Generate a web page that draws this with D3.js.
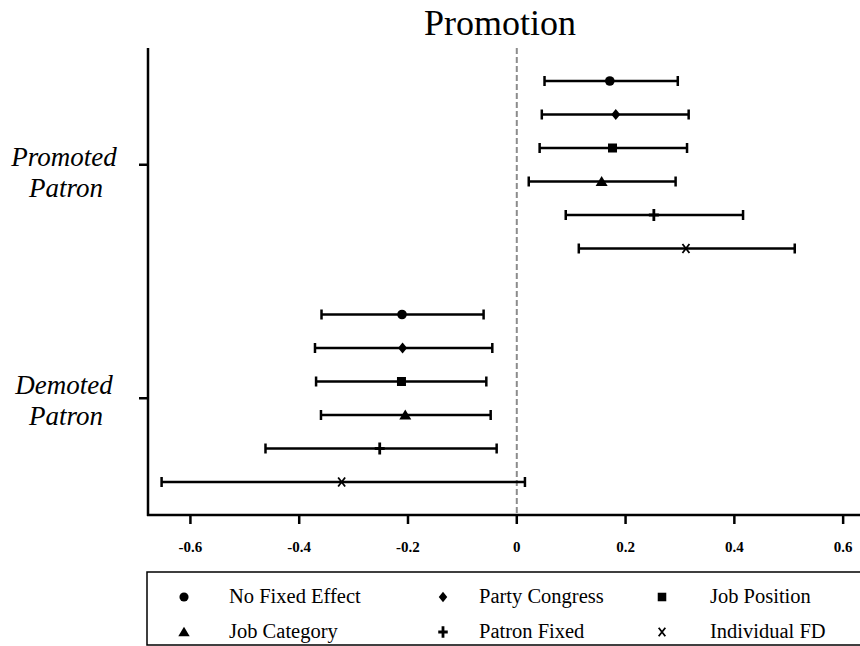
<!DOCTYPE html>
<html lang="en">
<head>
  <meta charset="UTF-8">
  <title>Promotion</title>
  <script src="https://d3js.org/d3.v7.min.js"></script>
  <style>
    body {
      margin: 0;
      background: white;
    }
    svg { display: block; }
  </style>
</head>
<body>

<svg width="860" height="646"></svg>

<script>
// categories (top to bottom) and model specifications
const categories = ["Promoted Patron", "Demoted Patron"];
const models = ["No Fixed Effect", "Party Congress", "Job Position", "Job Category", "Patron Fixed", "Individual FD"];
const shapes = ["circle", "diamond", "square", "triangle", "plus", "x"];

// point estimates and confidence bounds, one array per category (order = models)
const promotedEst = [0.171, 0.182, 0.176, 0.156, 0.252, 0.311];
const promotedLow = [0.051, 0.046, 0.042, 0.022, 0.090, 0.114];
const promotedHigh = [0.296, 0.316, 0.313, 0.292, 0.416, 0.511];

const demotedEst = [-0.211, -0.210, -0.212, -0.205, -0.252, -0.322];
const demotedLow = [-0.359, -0.371, -0.369, -0.360, -0.462, -0.653];
const demotedHigh = [-0.061, -0.045, -0.056, -0.048, -0.037, 0.015];

const xTicks = [-0.6, -0.4, -0.2, 0, 0.2, 0.4, 0.6];

const serif = "'Liberation Serif', 'Times New Roman', Times, serif";

const rows = [];
[[promotedEst, promotedLow, promotedHigh], [demotedEst, demotedLow, demotedHigh]].forEach((s, ci) => {
  models.forEach((m, i) => {
    rows.push({ cat: categories[ci], idx: i, shape: shapes[i], est: s[0][i], lo: s[1][i], hi: s[2][i] });
  });
});

const svg = d3.select("svg").attr("font-family", serif);
const plot = { left: 148, right: 860, top: 48, bottom: 515 };

const x = d3.scaleLinear().domain([-0.678, 0.631]).range([plot.left, plot.right]);
const y = d3.scalePoint().domain(categories).range([plot.top, plot.bottom]).padding(0.5);
const rowGap = 33.5;
const rowY = d => y(d.cat) + (d.idx - 2.5) * rowGap;

// title
svg.append("text")
  .attr("x", 500).attr("y", 35)
  .attr("text-anchor", "middle")
  .attr("font-size", 36)
  .text("Promotion");

// zero reference line
svg.append("line")
  .attr("x1", x(0)).attr("x2", x(0))
  .attr("y1", plot.top).attr("y2", plot.bottom)
  .attr("stroke", "#8c8c8c").attr("stroke-width", 2)
  .attr("stroke-dasharray", "6,3");

// axes
const axisG = svg.append("g").attr("stroke", "#000").attr("stroke-width", 2.5);
axisG.append("line").attr("x1", plot.left).attr("x2", plot.left)
  .attr("y1", plot.top).attr("y2", plot.bottom + 1);
axisG.append("line").attr("x1", plot.left - 1).attr("x2", plot.right)
  .attr("y1", plot.bottom).attr("y2", plot.bottom);

// x ticks
svg.append("g").selectAll("line").data(xTicks).join("line")
  .attr("x1", d => x(d)).attr("x2", d => x(d))
  .attr("y1", plot.bottom).attr("y2", plot.bottom + 9)
  .attr("stroke", "#000").attr("stroke-width", 2.5);
svg.append("g").selectAll("text").data(xTicks).join("text")
  .attr("x", d => x(d)).attr("y", plot.bottom + 37)
  .attr("text-anchor", "middle")
  .attr("font-size", 15).attr("font-weight", "bold")
  .text(d => d === 0 ? "0" : d3.format(".1f")(d).replace("\u2212", "-"));

// y ticks and category labels
const labelShift = [1, -4];
svg.append("g").selectAll("line").data(categories).join("line")
  .attr("x1", plot.left - 9).attr("x2", plot.left)
  .attr("y1", d => y(d)).attr("y2", d => y(d))
  .attr("stroke", "#000").attr("stroke-width", 2.5);
const catText = svg.append("g").selectAll("text").data(categories).join("text")
  .attr("font-size", 27).attr("font-style", "italic")
  .attr("text-anchor", "middle")
  .attr("y", (d, i) => y(d) + labelShift[i]);
catText.append("tspan").attr("x", 64).text(d => d.split(" ")[0]);
catText.append("tspan").attr("x", 66).attr("dy", 31).text(d => d.split(" ")[1]);

// error bars
const bars = svg.append("g").attr("stroke", "#000").attr("stroke-width", 2.5);
bars.selectAll("line.ci").data(rows).join("line").attr("class", "ci")
  .attr("x1", d => x(d.lo)).attr("x2", d => x(d.hi))
  .attr("y1", rowY).attr("y2", rowY);
bars.selectAll("line.cap-lo").data(rows).join("line").attr("class", "cap-lo")
  .attr("x1", d => x(d.lo)).attr("x2", d => x(d.lo))
  .attr("y1", d => rowY(d) - 5).attr("y2", d => rowY(d) + 5);
bars.selectAll("line.cap-hi").data(rows).join("line").attr("class", "cap-hi")
  .attr("x1", d => x(d.hi)).attr("x2", d => x(d.hi))
  .attr("y1", d => rowY(d) - 5).attr("y2", d => rowY(d) + 5);

// marker drawing
function drawMarker(g, shape, s) {
  if (shape === "circle") {
    g.append("circle").attr("r", 4.8 * s).attr("fill", "#000");
  } else if (shape === "diamond") {
    g.append("path").attr("d", `M0,${-5.5 * s}L${4.5 * s},0L0,${5.5 * s}L${-4.5 * s},0Z`).attr("fill", "#000");
  } else if (shape === "square") {
    g.append("rect").attr("x", -4.5 * s).attr("y", -4.5 * s)
      .attr("width", 9 * s).attr("height", 9 * s).attr("fill", "#000");
  } else if (shape === "triangle") {
    g.append("path").attr("d", `M0,${-5.5 * s}L${6 * s},${4.5 * s}L${-6 * s},${4.5 * s}Z`).attr("fill", "#000");
  } else if (shape === "plus") {
    g.append("path").attr("d", `M${-5 * s},0H${5 * s}M0,${-6 * s}V${6 * s}`)
      .attr("stroke", "#000").attr("stroke-width", 2.8).attr("fill", "none");
  } else if (shape === "x") {
    g.append("path").attr("d", `M${-3.5 * s},${-4.5 * s}L${3.5 * s},${4.5 * s}M${3.5 * s},${-4.5 * s}L${-3.5 * s},${4.5 * s}`)
      .attr("stroke", "#000").attr("stroke-width", 1.8).attr("fill", "none");
  }
}

svg.append("g").selectAll("g").data(rows).join("g")
  .attr("transform", d => `translate(${x(d.est)},${rowY(d)})`)
  .each(function(d) { drawMarker(d3.select(this), d.shape, 1); });

// legend
const legend = svg.append("g");
legend.append("rect")
  .attr("x", 147).attr("y", 572).attr("width", 760).attr("height", 73)
  .attr("fill", "none").attr("stroke", "#000").attr("stroke-width", 1.5);

const colSym = [184, 443, 662];
const colText = [229, 479, 710];
const rowLeg = [597, 632];
const legItems = legend.selectAll("g.item").data(models).join("g").attr("class", "item");
legItems.each(function(d, i) {
  const c = i % 3, r = Math.floor(i / 3);
  const g = d3.select(this);
  const sg = g.append("g").attr("transform", `translate(${colSym[c]},${rowLeg[r]})`);
  drawMarker(sg, shapes[i], 0.95);
  g.append("text")
    .attr("x", colText[c]).attr("y", rowLeg[r] + 6)
    .attr("font-size", 20.5)
    .text(d);
});
</script>

</body>
</html>
